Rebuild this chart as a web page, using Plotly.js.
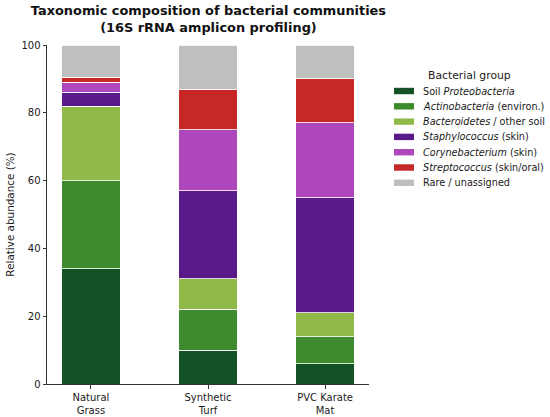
<!DOCTYPE html>
<html>
<head>
<meta charset="utf-8">
<script src="https://cdn.plot.ly/plotly-3.0.1.min.js"></script>
<style>html,body{margin:0;padding:0;background:#fff}#chart{width:550px;height:417px}</style>
</head>
<body>
<div id="chart"></div>
<script>
const categories = ["Natural<br>Grass", "Synthetic<br>Turf", "PVC Karate<br>Mat"];
const legendTitle = "Bacterial group";
const groupNames = [
  "Soil <i>Proteobacteria</i>",
  "<i>Actinobacteria</i> (environ.)",
  "<i>Bacteroidetes</i> / other soil",
  "<i>Staphylococcus</i> (skin)",
  "<i>Corynebacterium</i> (skin)",
  "<i>Streptococcus</i> (skin/oral)",
  "Rare / unassigned"
];
const soilProteobacteria = [34, 10, 6];
const actinobacteria = [26, 12, 8];
const bacteroidetes = [22, 9, 7];
const staphylococcus = [4, 26, 34];
const corynebacterium = [3, 18, 22];
const streptococcus = [1.5, 12, 13];
const rareUnassigned = [9.5, 13, 10];
const groupColors = ["#145226", "#3d8b2e", "#8fba4a", "#5a1a8a", "#ad47bb", "#c62828", "#bfbfbf"];

const series = [soilProteobacteria, actinobacteria, bacteroidetes, staphylococcus, corynebacterium, streptococcus, rareUnassigned];
const xIdx = categories.map((c, i) => i);
const traces = series.map((vals, k) => ({
  type: "bar",
  x: xIdx,
  y: vals,
  name: groupNames[k],
  width: 0.5,
  showlegend: false,
  marker: {color: groupColors[k], line: {color: "rgba(255,255,255,0.8)", width: 1}},
  hoverinfo: "y+name"
}));

// plot area in pixels (for placing the legend box to the right)
const W = 550, H = 417, M = {l: 47, r: 181, t: 45, b: 33};
const pw = W - M.l - M.r, ph = H - M.t - M.b;
const px = x => (x - M.l) / pw;
const py = y => (H - M.b - y) / ph;

const font = "DejaVu Sans, sans-serif";
const shapes = [];
const annotations = [{
  xref: "paper", yref: "paper", x: px(469), y: py(75),
  xanchor: "center", yanchor: "middle", showarrow: false,
  text: legendTitle, font: {family: font, size: 10.8, color: "#1a1a1a"}
}];
groupNames.forEach((name, k) => {
  const cy = 91 + 15.3 * k;
  shapes.push({
    type: "rect", xref: "paper", yref: "paper",
    x0: px(394), x1: px(414), y0: py(cy - 3.2), y1: py(cy + 3.2),
    fillcolor: groupColors[k], line: {width: 0}
  });
  annotations.push({
    xref: "paper", yref: "paper", x: px(421), y: py(cy),
    xanchor: "left", yanchor: "middle", showarrow: false,
    text: name, font: {family: font, size: 9.7, color: "#1a1a1a"}
  });
});

const layout = {
  width: W, height: H,
  barmode: "stack",
  bargap: 0,
  margin: M,
  paper_bgcolor: "#fff", plot_bgcolor: "#fff",
  font: {family: font, size: 10, color: "#1a1a1a"},
  title: {
    text: "<b>Taxonomic composition of bacterial communities<br>(16S rRNA amplicon profiling)</b>",
    font: {family: font, size: 12.9, color: "#111"},
    x: 0.379, xanchor: "center", y: 0.963, yanchor: "middle"
  },
  xaxis: {
    range: [-0.375, 2.375],
    tickvals: xIdx, ticktext: categories,
    showline: true, linecolor: "#333", linewidth: 1,
    ticks: "outside", ticklen: 3.5, tickcolor: "#333",
    showgrid: false, zeroline: false, fixedrange: true,
    tickfont: {size: 10, family: font, color: "#1a1a1a"}
  },
  yaxis: {
    range: [0, 100],
    tickvals: [0, 20, 40, 60, 80, 100],
    showline: true, linecolor: "#333", linewidth: 1,
    ticks: "outside", ticklen: 3.5, tickcolor: "#333",
    showgrid: false, zeroline: false, fixedrange: true,
    tickfont: {size: 10, family: font, color: "#1a1a1a"},
    title: {text: "Relative abundance (%)", font: {size: 10.4, family: font, color: "#1a1a1a"}, standoff: 4}
  },
  shapes: shapes,
  annotations: annotations,
  showlegend: false
};

Plotly.newPlot("chart", traces, layout, {displayModeBar: false, staticPlot: true});
</script>
</body>
</html>
